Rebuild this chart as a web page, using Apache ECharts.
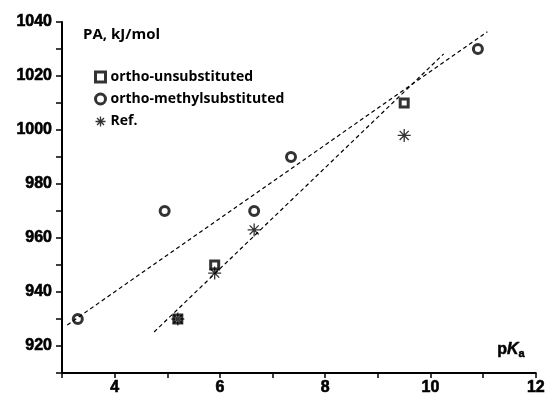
<!DOCTYPE html>
<html>
<head>
<meta charset="utf-8">
<script src="https://cdn.jsdelivr.net/npm/echarts@6/dist/echarts.min.js"></script>
<style>
  html, body { margin: 0; padding: 0; background: #fff; }
  #chart { width: 548px; height: 398px; }
</style>
</head>
<body>
<div id="chart"></div>
<script>
// measured points (pKa, PA)
var unsubstituted = [[5.2, 930], [5.9, 950], [9.5, 1010]];
var methylSubstituted = [[3.3, 930], [4.95, 970], [6.65, 970], [7.35, 990], [10.9, 1030]];
var reference = [[5.2, 930], [5.9, 947], [6.65, 963], [9.5, 998]];
// fitted lines, end points
var fitMethyl = [[3.1, 927.8], [11.08, 1036.4]];
var fitRef = [[4.75, 925.2], [10.25, 1028.2]];

var starPath = 'path://M10,0L10,20M0,10L20,10M3,3L17,17M3,17L17,3';
var tickFont = {
    fontFamily: 'Liberation Sans', fontWeight: 'bold', fontSize: 16, color: '#000',
    textBorderColor: '#000', textBorderWidth: 0.6
};
var legendFont = { fontFamily: 'Open Sans', fontWeight: 'bold', fontSize: 14, color: '#000' };
var hollow = { color: '#fff', borderColor: '#000', borderWidth: 3 };

var chart = echarts.init(document.getElementById('chart'));
chart.setOption({
    animation: false,
    grid: { left: 62, right: 10, top: 22, bottom: 25 },
    title: {
        text: 'PA, kJ/mol',
        left: 78, top: 22,
        textStyle: { fontFamily: 'Open Sans', fontWeight: 'bold', fontSize: 15, color: '#000' }
    },
    legend: {
        orient: 'vertical',
        left: 88, top: 65,
        itemWidth: 10, itemHeight: 10, itemGap: 8,
        textStyle: legendFont,
        data: [
            { name: 'ortho-unsubstituted', itemStyle: hollow },
            { name: 'ortho-methylsubstituted', itemStyle: hollow },
            { name: 'Ref.', itemStyle: { color: 'none', borderColor: '#000', borderWidth: 1.3 } }
        ]
    },
    graphic: [{
        type: 'text',
        left: 497, top: 341,
        style: {
            text: 'p{k|K}{s|a}',
            font: 'bold 16px "Liberation Sans"',
            stroke: '#000', lineWidth: 0.5,
            rich: {
                k: { font: 'italic bold 16px "Liberation Sans"' },
                s: { font: 'bold 11px "Liberation Sans"', padding: [9, 0, 0, 0] }
            }
        }
    }],
    xAxis: {
        type: 'value', min: 3, max: 12, interval: 1,
        axisLine: { lineStyle: { color: '#000', width: 2 } },
        axisTick: { length: 5, lineStyle: { width: 1.5 } },
        splitLine: { show: false },
        axisLabel: Object.assign({
            margin: 7,
            formatter: function (v) { return v % 2 === 0 ? v : ''; }
        }, tickFont)
    },
    yAxis: {
        type: 'value', min: 910, max: 1040, interval: 10,
        axisLine: { show: true, lineStyle: { color: '#000', width: 2 } },
        axisTick: { show: true, length: 6, lineStyle: { width: 1.5 } },
        splitLine: { show: false },
        axisLabel: Object.assign({
            margin: 10,
            formatter: function (v) { return v % 20 === 0 ? v : ''; }
        }, tickFont)
    },
    series: [
        {
            name: 'fit-methyl', type: 'line', data: fitMethyl, symbol: 'none',
            lineStyle: { color: '#000', width: 1.2, type: [4, 3] }, silent: true
        },
        {
            name: 'fit-ref', type: 'line', data: fitRef, symbol: 'none',
            lineStyle: { color: '#000', width: 1.2, type: [4, 3] }, silent: true
        },
        {
            name: 'ortho-unsubstituted', type: 'scatter', data: unsubstituted,
            symbol: 'rect', symbolSize: 8, itemStyle: hollow
        },
        {
            name: 'ortho-methylsubstituted', type: 'scatter', data: methylSubstituted,
            symbol: 'circle', symbolSize: 9, itemStyle: hollow
        },
        {
            name: 'Ref.', type: 'scatter', data: reference,
            symbol: starPath, symbolSize: 13,
            itemStyle: { color: 'none', borderColor: '#000', borderWidth: 1.3 }
        }
    ]
});
</script>
</body>
</html>
